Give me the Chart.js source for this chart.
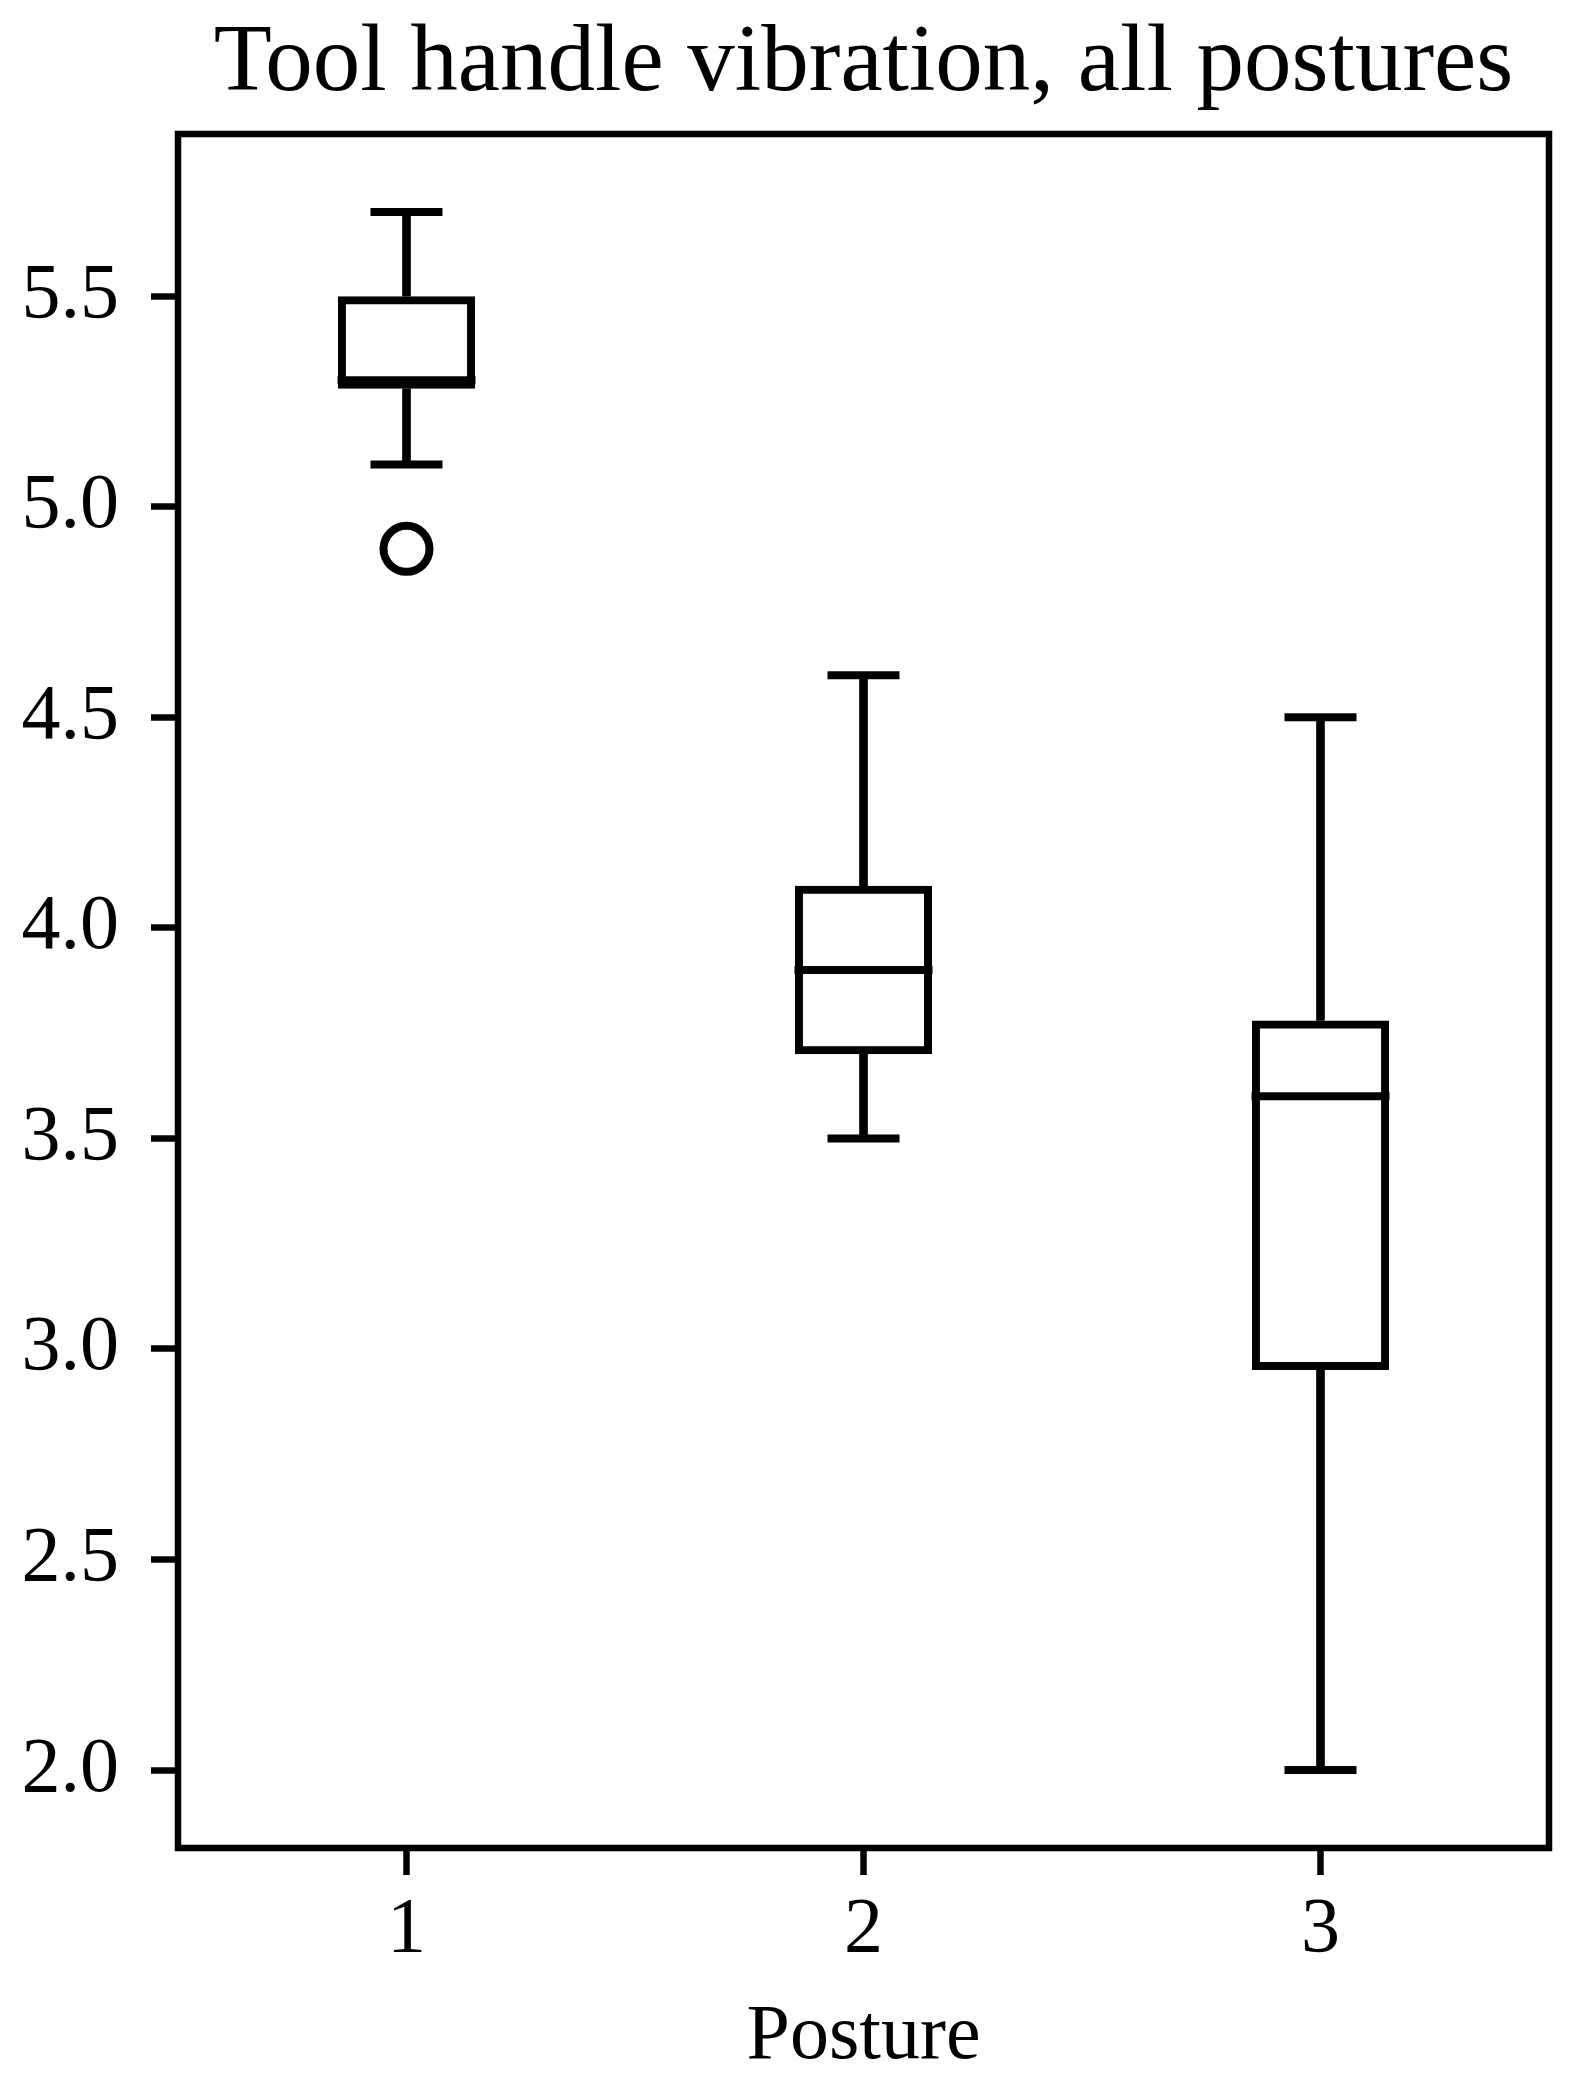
<!DOCTYPE html>
<html>
<head>
<meta charset="utf-8">
<title>Tool handle vibration, all postures</title>
<script src="https://cdn.jsdelivr.net/npm/chart.js@4.4.1/dist/chart.umd.min.js"></script>
<style>
  html, body { margin: 0; padding: 0; background: #fff; }
  canvas { display: block; }
</style>
</head>
<body>
<canvas id="chart" width="1574" height="2096"></canvas>
<script>
// box plot values, one entry per posture
const categories = ['1', '2', '3'];
const whiskerLow = [5.1, 3.5, 2.0];
const q1 = [5.28, 3.7, 2.95];
const median = [5.3, 3.9, 3.6];
const q3 = [5.5, 4.1, 3.78];
const whiskerHigh = [5.7, 4.6, 4.5];
const outliers = [[4.9], [], []];

const yTicks = [2.0, 2.5, 3.0, 3.5, 4.0, 4.5, 5.0, 5.5];
const yMin = 1.815;
const yMax = 5.885;

Chart.defaults.font.family = "'Liberation Serif', 'Times New Roman', serif";
Chart.defaults.color = '#000';

// matplotlib style frame round the plot area
const framePlugin = {
  id: 'frame',
  afterDraw(chart) {
    const { ctx, chartArea: a } = chart;
    ctx.save();
    ctx.strokeStyle = '#000';
    ctx.lineWidth = 6.5;
    ctx.strokeRect(a.left, a.top, a.right - a.left, a.bottom - a.top);
    ctx.restore();
  }
};

const outlierPoints = [];
outliers.forEach((vals, i) => vals.forEach(v => outlierPoints.push({ x: categories[i], y: v })));

const lineStroke = 8;

new Chart(document.getElementById('chart'), {
  data: {
    labels: categories,
    datasets: [
      {
        // box q1..q3
        type: 'bar',
        data: categories.map((c, i) => [q1[i], q3[i]]),
        backgroundColor: 'rgba(0,0,0,0)',
        borderColor: '#000',
        borderWidth: lineStroke,
        borderSkipped: false,
        grouped: false,
        barPercentage: 0.3,
        categoryPercentage: 1.0
      },
      {
        // upper whisker
        type: 'bar',
        data: categories.map((c, i) => [q3[i], whiskerHigh[i]]),
        backgroundColor: '#000',
        borderWidth: 0,
        grouped: false,
        barThickness: lineStroke
      },
      {
        // lower whisker
        type: 'bar',
        data: categories.map((c, i) => [whiskerLow[i], q1[i]]),
        backgroundColor: '#000',
        borderWidth: 0,
        grouped: false,
        barThickness: lineStroke
      },
      {
        type: 'line',
        data: whiskerHigh,
        showLine: false,
        pointStyle: 'line',
        pointRadius: 36,
        pointBorderWidth: lineStroke,
        borderColor: '#000'
      },
      {
        type: 'line',
        data: whiskerLow,
        showLine: false,
        pointStyle: 'line',
        pointRadius: 36,
        pointBorderWidth: lineStroke,
        borderColor: '#000'
      },
      {
        type: 'line',
        data: median,
        showLine: false,
        pointStyle: 'line',
        pointRadius: 69,
        pointBorderWidth: lineStroke,
        borderColor: '#000'
      },
      {
        // fliers
        type: 'line',
        data: outlierPoints,
        showLine: false,
        pointStyle: 'circle',
        pointRadius: 23,
        pointBorderWidth: lineStroke,
        borderColor: '#000',
        backgroundColor: 'rgba(0,0,0,0)'
      }
    ]
  },
  options: {
    responsive: false,
    animation: false,
    events: [],
    layout: { autoPadding: false, padding: { left: 0, right: 25, top: 0, bottom: 0 } },
    plugins: {
      legend: { display: false },
      tooltip: { enabled: false },
      title: {
        display: true,
        text: 'Tool handle vibration, all postures',
        fullSize: false,
        font: { size: 95, weight: 'normal', lineHeight: 1.2 },
        color: '#000',
        padding: { top: 8, bottom: 12 }
      }
    },
    scales: {
      x: {
        type: 'category',
        offset: true,
        grid: {
          display: true,
          offset: false,
          drawOnChartArea: false,
          drawTicks: true,
          tickLength: 27,
          tickWidth: 6.5,
          tickColor: '#000'
        },
        border: { display: false },
        ticks: {
          padding: 9,
          font: { size: 78, lineHeight: 1.2 },
          color: '#000',
          maxRotation: 0
        },
        title: {
          display: true,
          text: 'Posture',
          font: { size: 78, lineHeight: 1.2 },
          color: '#000',
          padding: { top: 0, bottom: 12 }
        },
        afterFit(scale) {
          scale.height = 248;
          scale.paddingLeft = 0;
          scale.paddingRight = 0;
        }
      },
      y: {
        type: 'linear',
        min: yMin,
        max: yMax,
        grid: {
          display: true,
          drawOnChartArea: false,
          drawTicks: true,
          tickLength: 27,
          tickWidth: 6.5,
          tickColor: '#000'
        },
        border: { display: false },
        ticks: {
          padding: 32,
          font: { size: 78, lineHeight: 1.2 },
          color: '#000',
          callback: v => Number(v).toFixed(1)
        },
        afterBuildTicks(scale) {
          scale.ticks = yTicks.map(v => ({ value: v }));
        },
        afterFit(scale) {
          scale.width = 178;
          scale.paddingTop = 0;
          scale.paddingBottom = 0;
        }
      }
    }
  },
  plugins: [framePlugin]
});
</script>
</body>
</html>
